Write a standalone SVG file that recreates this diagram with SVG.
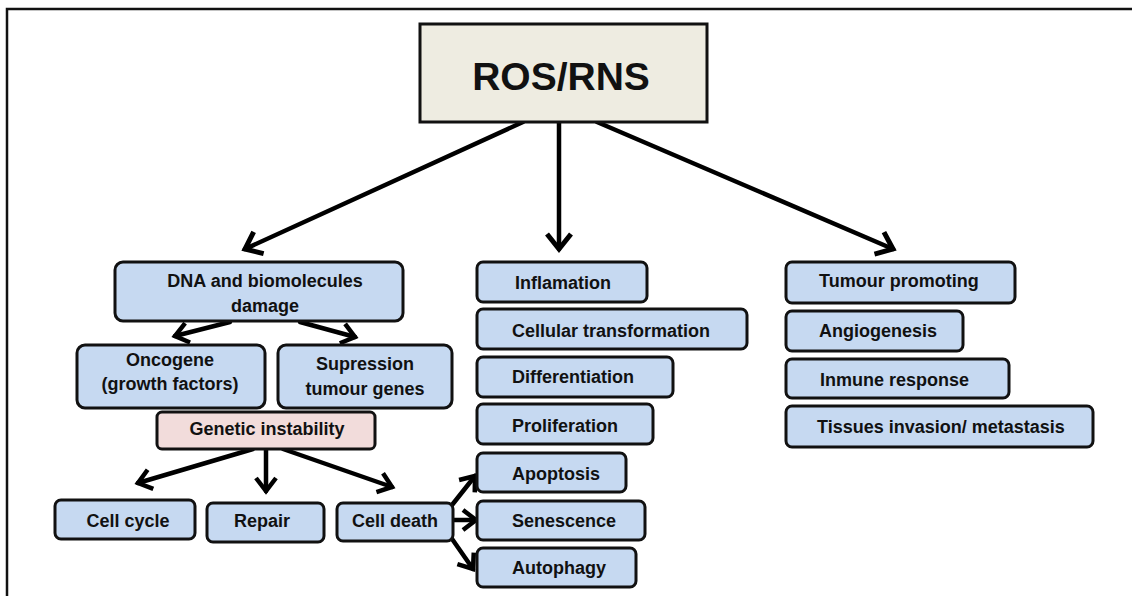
<svg xmlns="http://www.w3.org/2000/svg" width="1132" height="596" viewBox="0 0 1132 596">
<style>
.bx{fill:#c6d9f1;stroke:#111;stroke-width:3}
.t{font-family:"Liberation Sans",Arial,sans-serif;font-weight:bold;font-size:18px;fill:#111}
.c{text-anchor:middle}
.a{fill:none;stroke:#000;stroke-width:4.5;stroke-linecap:round}
.s{fill:none;stroke:#000;stroke-width:4.5;stroke-linecap:round}
</style>
<defs>
<marker id="ah" markerUnits="userSpaceOnUse" viewBox="-22 -16 26 32" markerWidth="26" markerHeight="32" refX="0" refY="0" orient="auto">
<path d="M-15,-12 L0,0 L-15,12" fill="none" stroke="#000" stroke-width="5" stroke-linejoin="miter"/>
</marker>
<marker id="sh" markerUnits="userSpaceOnUse" viewBox="-20 -14 24 28" markerWidth="24" markerHeight="28" refX="0" refY="0" orient="auto">
<path d="M-13,-10 L0,0 L-13,10" fill="none" stroke="#000" stroke-width="4.5" stroke-linejoin="miter"/>
</marker>
</defs>
<rect width="1132" height="596" fill="#fff"/>
<path d="M7,596 L7,9 L1132,9" fill="none" stroke="#111" stroke-width="2.5"/>

<g id="connectors">
<line class="a" x1="523" y1="122" x2="245" y2="249" marker-end="url(#ah)"/>
<line class="a" x1="559" y1="122" x2="559" y2="249" marker-end="url(#ah)"/>
<line class="a" x1="597" y1="122" x2="893" y2="249" marker-end="url(#ah)"/>
<line class="s" x1="230" y1="322" x2="175" y2="336" marker-end="url(#sh)"/>
<line class="s" x1="300" y1="322" x2="355" y2="337" marker-end="url(#sh)"/>
<line class="s" x1="253" y1="449" x2="138" y2="483" marker-end="url(#sh)"/>
<line class="s" x1="266" y1="449" x2="266" y2="491" marker-end="url(#sh)"/>
<line class="s" x1="283" y1="449" x2="392" y2="487" marker-end="url(#sh)"/>
<line class="s" x1="452" y1="505" x2="475" y2="476" marker-end="url(#sh)"/>
<line class="s" x1="453" y1="520" x2="476" y2="520" marker-end="url(#sh)"/>
<line class="s" x1="450" y1="536" x2="473" y2="569" marker-end="url(#sh)"/>
</g>

<g id="ros">
<rect x="420" y="24" width="287" height="98" fill="#eeece1" stroke="#111" stroke-width="3"/>
<text class="t c" x="561" y="90" style="font-size:39px">ROS/RNS</text>
</g>

<g id="dna"><rect class="bx" x="115" y="262" width="288" height="59" rx="8"/>
<text class="t c" x="265" y="287">DNA and biomolecules</text><text class="t c" x="265" y="312">damage</text></g>
<g id="oncogene"><rect class="bx" x="77" y="345" width="188" height="63" rx="8"/>
<text class="t c" x="170" y="366">Oncogene</text><text class="t c" x="170" y="390">(growth factors)</text></g>
<g id="supression"><rect class="bx" x="278" y="345" width="174" height="63" rx="8"/>
<text class="t c" x="365" y="370">Supression</text><text class="t c" x="365" y="395">tumour genes</text></g>
<g id="genetic"><rect x="157" y="412" width="218" height="37" rx="5" fill="#f2dcdb" stroke="#111" stroke-width="3"/>
<text class="t c" x="267" y="435">Genetic instability</text></g>
<g id="cellcycle"><rect class="bx" x="55" y="500" width="140" height="39" rx="6"/>
<text class="t c" x="128" y="527">Cell cycle</text></g>
<g id="repair"><rect class="bx" x="207" y="503" width="117" height="39" rx="6"/>
<text class="t c" x="262" y="527">Repair</text></g>
<g id="celldeath"><rect class="bx" x="337" y="503" width="116" height="38" rx="6"/>
<text class="t c" x="395" y="527">Cell death</text></g>

<g id="inflamation"><rect class="bx" x="477" y="262" width="170" height="40" rx="6"/>
<text class="t" x="515" y="289">Inflamation</text></g>
<g id="cellular"><rect class="bx" x="477" y="309" width="270" height="40" rx="6"/>
<text class="t" x="512" y="337">Cellular transformation</text></g>
<g id="differentiation"><rect class="bx" x="477" y="357" width="196" height="40" rx="6"/>
<text class="t" x="512" y="383">Differentiation</text></g>
<g id="proliferation"><rect class="bx" x="477" y="404" width="176" height="40" rx="6"/>
<text class="t" x="512" y="432">Proliferation</text></g>
<g id="apoptosis"><rect class="bx" x="477" y="453" width="149" height="39" rx="6"/>
<text class="t" x="512" y="480">Apoptosis</text></g>
<g id="senescence"><rect class="bx" x="477" y="501" width="168" height="39" rx="6"/>
<text class="t" x="512" y="527">Senescence</text></g>
<g id="autophagy"><rect class="bx" x="477" y="548" width="159" height="39" rx="6"/>
<text class="t" x="512" y="574">Autophagy</text></g>

<g id="tumour"><rect class="bx" x="786" y="262" width="229" height="41" rx="6"/>
<text class="t" x="819" y="287">Tumour promoting</text></g>
<g id="angiogenesis"><rect class="bx" x="786" y="311" width="177" height="40" rx="6"/>
<text class="t" x="819" y="337">Angiogenesis</text></g>
<g id="inmune"><rect class="bx" x="786" y="359" width="223" height="39" rx="6"/>
<text class="t" x="820" y="386">Inmune response</text></g>
<g id="tissues"><rect class="bx" x="786" y="406" width="307" height="41" rx="6"/>
<text class="t" x="817" y="433">Tissues invasion/ metastasis</text></g>
</svg>
